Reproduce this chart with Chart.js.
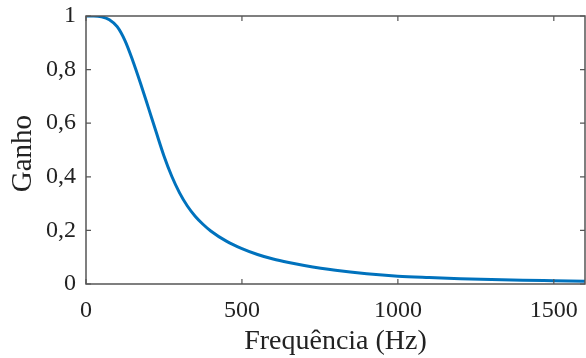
<!DOCTYPE html>
<html>
<head>
<meta charset="utf-8">
<script src="https://cdn.jsdelivr.net/npm/chart.js@4/dist/chart.umd.min.js"></script>
<style>
  html, body { margin: 0; padding: 0; background: #fff; }
  #grafico { display: block; }
</style>
</head>
<body>
<canvas id="grafico" width="586" height="358"></canvas>
<script>
// dados
const frequencias = [0, 25, 50, 75, 100, 125, 150, 175, 200, 225, 250, 275, 300, 325, 350, 375, 400, 450, 500, 550, 600, 650, 700, 800, 900, 1000, 1100, 1200, 1300, 1400, 1500, 1600];
const ganhos = [1.0, 1.0, 0.997, 0.986, 0.96, 0.908, 0.833, 0.748, 0.658, 0.567, 0.478, 0.402, 0.34, 0.291, 0.253, 0.223, 0.198, 0.16, 0.132, 0.11, 0.093, 0.08, 0.069, 0.051, 0.038, 0.029, 0.024, 0.02, 0.017, 0.014, 0.012, 0.010];
const ticksX = [0, 500, 1000, 1500];
const ticksY = [0, 0.2, 0.4, 0.6, 0.8, 1];

const fonte = '"Liberation Serif", "Times New Roman", serif';
const corEixo = '#555';

// marcas para dentro, estilo matlab, e a caixa em volta
const caixaPlugin = {
    id: 'caixa',
    afterDraw(chart) {
        const ctx = chart.ctx;
        const a = chart.chartArea;
        const sx = chart.scales.x;
        const sy = chart.scales.y;
        const len = 5;
        ctx.save();
        ctx.strokeStyle = corEixo;
        ctx.lineWidth = 1.5;
        ctx.strokeRect(a.left, a.top, a.right - a.left, a.bottom - a.top);
        ctx.lineWidth = 1.2;
        ctx.beginPath();
        ticksX.forEach(v => {
            const px = sx.getPixelForValue(v);
            ctx.moveTo(px, a.bottom); ctx.lineTo(px, a.bottom - len);
            ctx.moveTo(px, a.top); ctx.lineTo(px, a.top + len);
        });
        ticksY.forEach(v => {
            const py = sy.getPixelForValue(v);
            ctx.moveTo(a.left, py); ctx.lineTo(a.left + len, py);
            ctx.moveTo(a.right, py); ctx.lineTo(a.right - len, py);
        });
        ctx.stroke();
        ctx.restore();
    }
};

const ctx = document.getElementById('grafico').getContext('2d');
new Chart(ctx, {
    type: 'line',
    data: {
        datasets: [{
            data: frequencias.map((f, i) => ({x: f, y: ganhos[i]})),
            borderColor: '#0072BD',
            borderWidth: 3,
            pointRadius: 0,
            cubicInterpolationMode: 'monotone',
            fill: false
        }]
    },
    options: {
        responsive: false,
        animation: false,
        layout: { padding: { top: 16, right: 1, left: 0, bottom: 0 } },
        plugins: {
            legend: { display: false },
            tooltip: { enabled: false }
        },
        scales: {
            x: {
                type: 'linear',
                min: 0,
                max: 1600,
                afterBuildTicks: s => { s.ticks = ticksX.map(v => ({value: v})); },
                afterFit: s => { s.height = 74; s.paddingLeft = 0; s.paddingRight = 0; },
                grid: { display: false, drawTicks: false },
                border: { display: false },
                ticks: {
                    padding: 12,
                    color: '#222',
                    font: { family: fonte, size: 24 },
                    maxRotation: 0,
                    callback: v => String(v)
                },
                title: {
                    display: true,
                    text: 'Frequência (Hz)',
                    color: '#222',
                    font: { family: fonte, size: 28 },
                    padding: { top: 0, bottom: 0 }
                }
            },
            y: {
                min: 0,
                max: 1,
                afterBuildTicks: s => { s.ticks = ticksY.map(v => ({value: v})); },
                afterFit: s => { s.width = 86; s.paddingTop = 0; s.paddingBottom = 0; },
                grid: { display: false, drawTicks: false },
                border: { display: false },
                ticks: {
                    padding: 10,
                    color: '#222',
                    font: { family: fonte, size: 24 },
                    callback: v => (Math.round(v * 10) / 10).toString().replace('.', ',')
                },
                title: {
                    display: true,
                    text: 'Ganho\u00a0',
                    color: '#222',
                    font: { family: fonte, size: 29 },
                    padding: { top: 6, bottom: 0 }
                }
            }
        }
    },
    plugins: [caixaPlugin]
});
</script>
</body>
</html>
